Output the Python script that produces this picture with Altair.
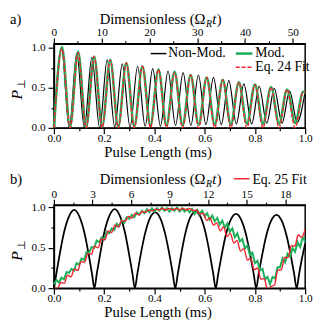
import altair as alt
import pandas as pd

FONT = "Liberation Serif"
GREEN = "#1daf5a"
RED = "#f5222d"

# ---------------- panel a ----------------
black_a_t = [0.0, 0.030, 0.061, 0.091, 0.121, 0.151, 0.182, 0.212, 0.242, 0.272, 0.303, 0.333,
             0.363, 0.393, 0.424, 0.454, 0.484, 0.514, 0.545, 0.575, 0.605, 0.635, 0.666, 0.696,
             0.726, 0.756, 0.787, 0.817, 0.847, 0.877, 0.908, 0.938, 0.968, 0.998]
black_a_p = [0.00, 1.00, 0.00, 0.93, 0.00, 0.88, 0.00, 0.85, 0.01, 0.80, 0.01, 0.77,
             0.02, 0.74, 0.02, 0.71, 0.03, 0.69, 0.03, 0.66, 0.04, 0.63, 0.04, 0.59,
             0.05, 0.55, 0.05, 0.52, 0.06, 0.49, 0.06, 0.46, 0.07, 0.42]

green_a_t = [0.0, 0.032, 0.064, 0.096, 0.128, 0.160, 0.192, 0.224, 0.256, 0.288, 0.320, 0.352,
             0.384, 0.416, 0.448, 0.480, 0.512, 0.544, 0.576, 0.608, 0.640, 0.672, 0.704, 0.736,
             0.768, 0.800, 0.832, 0.864, 0.896, 0.928, 0.960, 0.992, 1.0]
green_a_p = [0.00, 1.01, 0.01, 0.95, 0.01, 0.89, 0.02, 0.85, 0.02, 0.81, 0.02, 0.77,
             0.03, 0.73, 0.03, 0.70, 0.03, 0.66, 0.04, 0.63, 0.04, 0.60, 0.04, 0.57,
             0.05, 0.54, 0.05, 0.51, 0.05, 0.48, 0.06, 0.45, 0.44]
red_a_p = [0.00, 0.99, 0.00, 0.94, 0.00, 0.89, 0.00, 0.85, 0.00, 0.81, 0.00, 0.77,
           0.00, 0.73, 0.00, 0.69, 0.00, 0.66, 0.00, 0.63, 0.00, 0.60, 0.00, 0.57,
           0.00, 0.54, 0.00, 0.51, 0.00, 0.48, 0.00, 0.45, 0.44]

# ---------------- panel b ----------------
black_b_t = [0.000, 0.010, 0.020, 0.040, 0.060, 0.081, 0.101, 0.121, 0.141, 0.151, 0.161,
             0.171, 0.181, 0.201, 0.221, 0.242, 0.262, 0.282, 0.302, 0.312, 0.322,
             0.332, 0.342, 0.362, 0.382, 0.403, 0.423, 0.443, 0.463, 0.473, 0.483,
             0.493, 0.503, 0.523, 0.543, 0.564, 0.584, 0.604, 0.624, 0.634, 0.644,
             0.654, 0.664, 0.684, 0.704, 0.725, 0.745, 0.765, 0.785, 0.795, 0.805,
             0.815, 0.825, 0.845, 0.865, 0.886, 0.906, 0.926, 0.946, 0.956, 0.966,
             0.976, 0.986, 1.000]
black_b_p = [0.00, 0.19, 0.37, 0.69, 0.89, 0.97, 0.89, 0.69, 0.37, 0.19, 0.00,
             0.19, 0.37, 0.70, 0.90, 0.98, 0.90, 0.70, 0.37, 0.19, 0.00,
             0.18, 0.36, 0.67, 0.87, 0.94, 0.87, 0.67, 0.36, 0.18, 0.00,
             0.18, 0.36, 0.68, 0.88, 0.95, 0.88, 0.68, 0.36, 0.18, 0.00,
             0.18, 0.35, 0.66, 0.85, 0.92, 0.85, 0.66, 0.35, 0.18, 0.00,
             0.18, 0.35, 0.65, 0.84, 0.91, 0.84, 0.65, 0.35, 0.18, 0.00,
             0.18, 0.35, 0.55]

green_b_t = [0.00, 0.01, 0.02, 0.03, 0.04, 0.05, 0.06, 0.07, 0.08, 0.09,
             0.10, 0.11, 0.12, 0.13, 0.14, 0.15, 0.16, 0.17, 0.18, 0.19,
             0.20, 0.21, 0.22, 0.23, 0.24, 0.25, 0.26, 0.27, 0.28, 0.29,
             0.30, 0.31, 0.32, 0.33, 0.34, 0.35, 0.36, 0.37, 0.38, 0.39,
             0.40, 0.41, 0.42, 0.43, 0.44, 0.45, 0.46, 0.47, 0.48, 0.49,
             0.50, 0.51, 0.52, 0.53, 0.54, 0.55, 0.56, 0.57, 0.58, 0.59,
             0.60, 0.61, 0.62, 0.63, 0.64, 0.65, 0.66, 0.67, 0.68, 0.69,
             0.70, 0.71, 0.72, 0.73, 0.74, 0.75, 0.76, 0.77, 0.78, 0.79,
             0.80, 0.81, 0.82, 0.83, 0.84, 0.85, 0.86, 0.87, 0.88, 0.89,
             0.90, 0.91, 0.92, 0.93, 0.94, 0.95, 0.96, 0.97, 0.98, 0.99,
             1.00]
green_b_p = [0.05, 0.10, 0.07, 0.13, 0.11, 0.20, 0.19, 0.24, 0.22, 0.31,
             0.29, 0.37, 0.35, 0.45, 0.44, 0.51, 0.50, 0.59, 0.57, 0.63,
             0.61, 0.70, 0.68, 0.74, 0.72, 0.80, 0.77, 0.84, 0.81, 0.88,
             0.86, 0.91, 0.88, 0.94, 0.91, 0.96, 0.93, 0.98, 0.94, 0.99,
             0.95, 0.99, 0.96, 1.00, 0.96, 0.99, 0.95, 0.99, 0.96, 1.00,
             0.95, 0.99, 0.95, 0.98, 0.94, 0.98, 0.92, 0.97, 0.92, 0.96,
             0.89, 0.93, 0.85, 0.90, 0.83, 0.87, 0.79, 0.84, 0.75, 0.80,
             0.70, 0.74, 0.63, 0.68, 0.58, 0.61, 0.49, 0.53, 0.41, 0.44,
             0.31, 0.34, 0.22, 0.24, 0.11, 0.14, 0.05, 0.14, 0.12, 0.26,
             0.26, 0.37, 0.32, 0.43, 0.39, 0.50, 0.45, 0.57, 0.51, 0.63,
             0.58]

red_b_t = [0.000, 0.014, 0.027, 0.041, 0.054, 0.068, 0.081, 0.095, 0.108, 0.122,
           0.135, 0.149, 0.162, 0.176, 0.189, 0.203, 0.216, 0.230, 0.243, 0.257,
           0.270, 0.284, 0.297, 0.311, 0.324, 0.338, 0.351, 0.365, 0.378, 0.392,
           0.405, 0.419, 0.432, 0.446, 0.459, 0.473, 0.486, 0.500, 0.513, 0.527,
           0.540, 0.554, 0.567, 0.581, 0.594, 0.608, 0.621, 0.635, 0.648, 0.662,
           0.675, 0.689, 0.702, 0.716, 0.729, 0.743, 0.756, 0.770, 0.783, 0.797,
           0.810, 0.824, 0.837, 0.851, 0.864, 0.878, 0.891, 0.905, 0.918, 0.932,
           0.945, 0.959, 0.972, 0.986, 1.000]
red_b_p = [0.00, -0.01, 0.07, 0.06, 0.16, 0.14, 0.24, 0.22, 0.33, 0.32,
           0.43, 0.42, 0.52, 0.50, 0.61, 0.60, 0.71, 0.69, 0.78, 0.76,
           0.84, 0.83, 0.89, 0.87, 0.93, 0.91, 0.95, 0.94, 0.97, 0.96,
           0.98, 0.97, 0.99, 0.97, 0.99, 0.97, 0.99, 0.97, 0.99, 0.97,
           0.99, 0.96, 0.97, 0.92, 0.93, 0.84, 0.87, 0.78, 0.81, 0.71,
           0.76, 0.64, 0.68, 0.56, 0.59, 0.46, 0.49, 0.35, 0.37, 0.23,
           0.25, 0.11, 0.12, -0.03, 0.02, 0.04, 0.22, 0.23, 0.38, 0.38,
           0.53, 0.52, 0.66, 0.63, 0.73]

# ---------------- axes ----------------
bottom_ticks = [0.0, 0.1, 0.2, 0.3, 0.4, 0.5, 0.6, 0.7, 0.8, 0.9, 1.0]
left_ticks = [0.0, 0.25, 0.5, 0.75, 1.0]
top_ticks_a = [0, 5, 10, 15, 20, 25, 30, 35, 40, 45, 50]
top_ticks_b = [0, 1.5, 3, 4.5, 6, 7.5, 9, 10.5, 12, 13.5, 15, 16.5, 18]
top_max_a = 52.6
top_max_b = 19.55

X10 = "round(datum.value * 10) % 2 == 0"
Y4 = "round(datum.value * 4) % 2 == 0"

dummy = pd.DataFrame({"d": [0]})


def frame(t, p):
    return pd.DataFrame({"t": t, "P": p})


def x_bottom():
    return alt.X("t:Q", scale=alt.Scale(domain=[0, 1], nice=False, zero=False),
                 axis=alt.Axis(values=bottom_ticks,
                               labelExpr=X10 + " ? format(datum.value, '.1f') : ''",
                               tickSize={"condition": {"test": X10, "value": 6}, "value": 3},
                               labelOverlap=False, labelFlush=False, labelPadding=-1,
                               title="Pulse Length (ms)", titleX=106, titleY=29,
                               titleBaseline="alphabetic", titleAlign="center"))


def y_left(top):
    return alt.Y("P:Q", scale=alt.Scale(domain=[0, top], nice=False, zero=False),
                 axis=alt.Axis(values=left_ticks,
                               labelExpr=Y4 + " ? format(datum.value, '.1f') : ''",
                               tickSize={"condition": {"test": Y4, "value": 6}, "value": 3},
                               labelOverlap=False, labelFlush=False, labelPadding=3, title=None))


def line(t, p, ytop, color, width, interp, dash=None, clip=False):
    kw = dict(color=color, strokeWidth=width, interpolate=interp, clip=clip)
    if dash:
        kw["strokeDash"] = dash
    return alt.Chart(frame(t, p)).mark_line(**kw).encode(x=x_bottom(), y=y_left(ytop))


def top_layer(ticks, tmax, major):
    axis = alt.Axis(orient="top", values=ticks,
                    labelExpr=major + " ? format(datum.value, 'd') : ''",
                    tickSize={"condition": {"test": major, "value": 6}, "value": 3},
                    labelOverlap=False, labelFlush=False, labelPadding=0, title=None)
    return alt.Chart(pd.DataFrame({"w": ticks})).mark_point(opacity=0).encode(
        x=alt.X("w:Q", scale=alt.Scale(domain=[0, tmax], nice=False, zero=False), axis=axis),
        y=alt.value(0))


def txt(s, x, y, size=15, style="normal", align="left", baseline="alphabetic", angle=0):
    return alt.Chart(dummy).mark_text(text=s, font=FONT, fontSize=size, fontStyle=style,
                                      align=align, baseline=baseline, angle=angle,
                                      color="black").encode(x=alt.value(x), y=alt.value(y))


def seg(x1, x2, y, color, width, dash=None):
    kw = dict(color=color, strokeWidth=width)
    if dash:
        kw["strokeDash"] = dash
    return alt.Chart(dummy).mark_rule(**kw).encode(x=alt.value(x1), x2=alt.value(x2), y=alt.value(y))


def dim_title(y, x0=155):
    return [txt("Dimensionless (Ω", x0, y, align="right"),
            txt("R", x0 + 0.5, y + 3, size=10, style="italic"),
            txt("t", x0 + 7, y, style="italic"),
            txt(")", x0 + 11.5, y)]


def side(label, ytitle, ymid):
    return [txt(label, -45, ytitle),
            txt("P", -38, ymid, size=16, style="italic", align="center", baseline="middle", angle=270),
            txt("⊥", -33, ymid - 11, size=11, align="center", baseline="middle", angle=270)]


YTOP_A = 1.05
YTOP_B = 1.03

inner_a = alt.layer(
    line(black_a_t, black_a_p, YTOP_A, "black", 1.2, "monotone"),
    line(green_a_t, green_a_p, YTOP_A, GREEN, 2.6, "monotone"),
    line(green_a_t, red_a_p, YTOP_A, RED, 1.4, "monotone", dash=[4, 2]),
)
legend_a = [
    seg(99, 115, 10, "black", 1.5), txt("Non-Mod.", 117, 10, size=14, baseline="middle"),
    seg(186, 203, 10, GREEN, 2.6), txt("Mod.", 206, 10, size=14, baseline="middle"),
    seg(186, 203, 24, RED, 1.4, dash=[4, 2]), txt("Eq. 24 Fit", 206, 24, size=14, baseline="middle"),
]
panel_a = alt.layer(inner_a, top_layer(top_ticks_a, top_max_a, "datum.value % 10 == 0"),
                    *legend_a, *dim_title(-20), *side("a)", -20, 52)
                    ).resolve_scale(x="independent").properties(width=257, height=86)

inner_b = alt.layer(
    line(black_b_t, black_b_p, YTOP_B, "black", 1.8, "monotone"),
    line(green_b_t, green_b_p, YTOP_B, GREEN, 2.0, "linear"),
    line(red_b_t, red_b_p, YTOP_B, RED, 1.4, "monotone", clip=True),
)
legend_b = [seg(184, 200, -27, RED, 1.5), txt("Eq. 25 Fit", 203, -22, size=14)]
panel_b = alt.layer(inner_b, top_layer(top_ticks_b, top_max_b, "datum.value % 3 == 0"),
                    *legend_b, *dim_title(-22), *side("b)", -22, 52)
                    ).resolve_scale(x="independent").properties(width=257, height=85)

chart = alt.vconcat(panel_a, panel_b, spacing=11).properties(padding=0).configure_view(
    stroke="black", strokeWidth=1.5
).configure_axis(
    labelFont=FONT, labelFontSize=11.5, labelColor="black",
    titleFont=FONT, titleFontSize=15, titleFontWeight="normal", titleColor="black",
    domainColor="black", domainWidth=1.5, tickColor="black", tickWidth=1.2, grid=False
)

chart.save("out.html", embed_options={"renderer": "svg", "actions": False})
